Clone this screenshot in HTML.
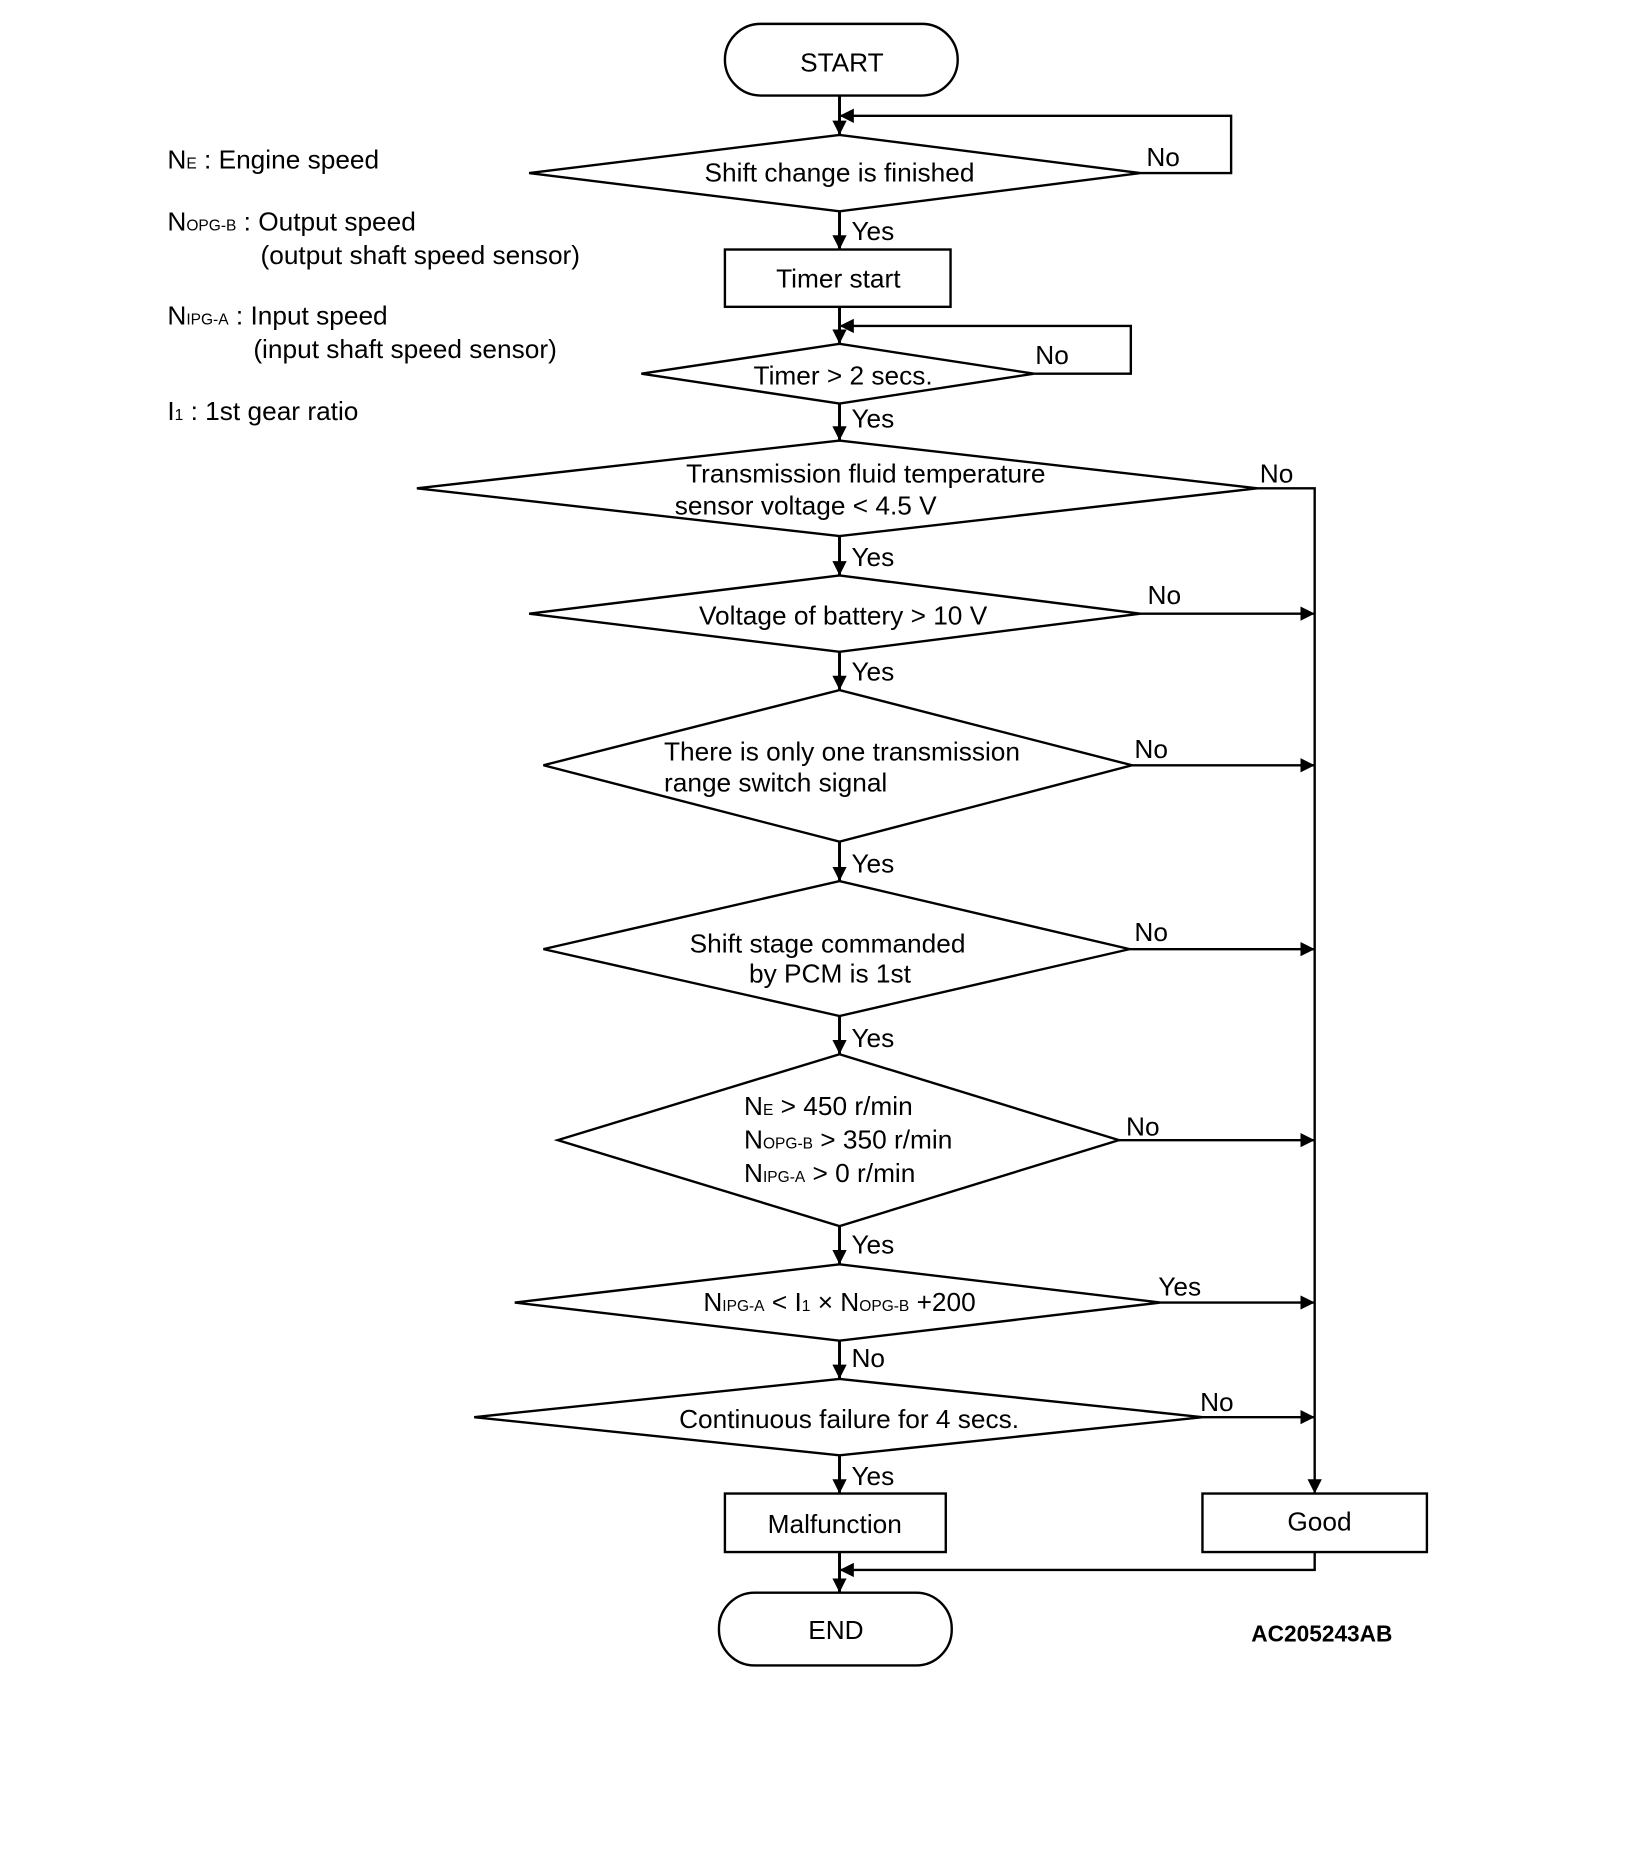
<!DOCTYPE html>
<html><head><meta charset="utf-8"><style>
html,body{margin:0;padding:0;background:#fff;}
svg{display:block;}
text{font-family:"Liberation Sans",Arial,sans-serif;font-size:22px;fill:#000;}
.s{font-size:13px;}
</style></head><body>
<svg width="1648" height="1872" viewBox="0 0 1380 1568" xmlns="http://www.w3.org/2000/svg">
<defs>
<marker id="a" viewBox="0 0 10 10" refX="10" refY="5" markerWidth="12" markerHeight="12" markerUnits="userSpaceOnUse" orient="auto">
<path d="M0,0 L10,5 L0,10 z" fill="#000"/></marker>
</defs>
<g fill="none" stroke="#000" stroke-width="2">
<rect x="607" y="20" width="195" height="60" rx="30"/>
<polygon points="443,145 703,113 955,145 703,177"/>
<rect x="607" y="209" width="189" height="48"/>
<polygon points="537,313 703,288 866,313 703,338"/>
<polygon points="349,409 703,369 1053,409 703,449"/>
<polygon points="443,514 703,482 955,514 703,546"/>
<polygon points="455,641 703,578 948,641 703,705"/>
<polygon points="455,795 703,738 946,795 703,851"/>
<polygon points="467,955 703,883 937,955 703,1027"/>
<polygon points="431,1091 703,1059 972,1091 703,1123"/>
<polygon points="397,1187 703,1155 1007,1187 703,1219"/>
<rect x="607" y="1251" width="185" height="49"/>
<rect x="1007" y="1251" width="188" height="49"/>
<rect x="602" y="1334" width="195" height="61" rx="30"/>
</g>
<g fill="none" stroke="#000" stroke-width="2.5" marker-end="url(#a)">
<line x1="703" y1="80" x2="703" y2="113"/>
<polyline points="955,145 1031,145 1031,97 703,97" stroke-width="2"/>
<line x1="703" y1="177" x2="703" y2="209"/>
<line x1="703" y1="257" x2="703" y2="288"/>
<polyline points="866,313 947,313 947,273 703,273" stroke-width="2"/>
<line x1="703" y1="338" x2="703" y2="369"/>
<line x1="703" y1="449" x2="703" y2="482"/>
<line x1="703" y1="546" x2="703" y2="578"/>
<line x1="703" y1="705" x2="703" y2="738"/>
<line x1="703" y1="851" x2="703" y2="883"/>
<line x1="703" y1="1027" x2="703" y2="1059"/>
<line x1="703" y1="1123" x2="703" y2="1155"/>
<line x1="703" y1="1219" x2="703" y2="1251"/>
<line x1="703" y1="1300" x2="703" y2="1334"/>
<polyline points="1053,409 1101,409 1101,1251" stroke-width="2"/>
<line x1="955" y1="514" x2="1101" y2="514" stroke-width="2"/>
<line x1="948" y1="641" x2="1101" y2="641" stroke-width="2"/>
<line x1="946" y1="795" x2="1101" y2="795" stroke-width="2"/>
<line x1="937" y1="955" x2="1101" y2="955" stroke-width="2"/>
<line x1="972" y1="1091" x2="1101" y2="1091" stroke-width="2"/>
<line x1="1007" y1="1187" x2="1101" y2="1187" stroke-width="2"/>
<polyline points="1101,1300 1101,1315 703,1315" stroke-width="2"/>
</g>
<text x="705" y="60" text-anchor="middle">START</text>
<text x="703" y="152" text-anchor="middle">Shift change is finished</text>
<text x="960" y="139">No</text>
<text x="713" y="201">Yes</text>
<text x="702" y="241" text-anchor="middle">Timer start</text>
<text x="706" y="322" text-anchor="middle">Timer &gt; 2 secs.</text>
<text x="867" y="305">No</text>
<text x="713" y="358">Yes</text>
<text x="725" y="404" text-anchor="middle">Transmission fluid temperature</text>
<text x="565" y="431">sensor voltage &lt; 4.5 V</text>
<text x="1055" y="404">No</text>
<text x="713" y="474">Yes</text>
<text x="706" y="523" text-anchor="middle">Voltage of battery &gt; 10 V</text>
<text x="961" y="506">No</text>
<text x="713" y="570">Yes</text>
<text x="556" y="637">There is only one transmission</text>
<text x="556" y="663">range switch signal</text>
<text x="950" y="635">No</text>
<text x="713" y="731">Yes</text>
<text x="693" y="798" text-anchor="middle">Shift stage commanded</text>
<text x="695" y="823" text-anchor="middle">by PCM is 1st</text>
<text x="950" y="788">No</text>
<text x="713" y="877">Yes</text>
<text x="623" y="934">N<tspan class="s">E</tspan> &gt; 450 r/min</text>
<text x="623" y="962">N<tspan class="s">OPG-B</tspan> &gt; 350 r/min</text>
<text x="623" y="990">N<tspan class="s">IPG-A</tspan> &gt; 0 r/min</text>
<text x="943" y="951">No</text>
<text x="713" y="1050">Yes</text>
<text x="703" y="1098" text-anchor="middle">N<tspan class="s">IPG-A</tspan> &lt; I<tspan class="s">1</tspan> × N<tspan class="s">OPG-B</tspan> +200</text>
<text x="970" y="1085">Yes</text>
<text x="713" y="1145">No</text>
<text x="711" y="1196" text-anchor="middle">Continuous failure for 4 secs.</text>
<text x="1005" y="1182">No</text>
<text x="713" y="1244">Yes</text>
<text x="699" y="1284" text-anchor="middle">Malfunction</text>
<text x="1105" y="1282" text-anchor="middle">Good</text>
<text x="700" y="1373" text-anchor="middle">END</text>
<text x="1107" y="1375" text-anchor="middle" style="font-weight:bold;font-size:19px">AC205243AB</text>
<text x="140" y="141">N<tspan class="s">E</tspan> : Engine speed</text>
<text x="140" y="193">N<tspan class="s">OPG-B</tspan> : Output speed</text>
<text x="218" y="221">(output shaft speed sensor)</text>
<text x="140" y="272">N<tspan class="s">IPG-A</tspan> : Input speed</text>
<text x="212" y="300">(input shaft speed sensor)</text>
<text x="140" y="352">I<tspan class="s">1</tspan> : 1st gear ratio</text>
</svg>
</body></html>
